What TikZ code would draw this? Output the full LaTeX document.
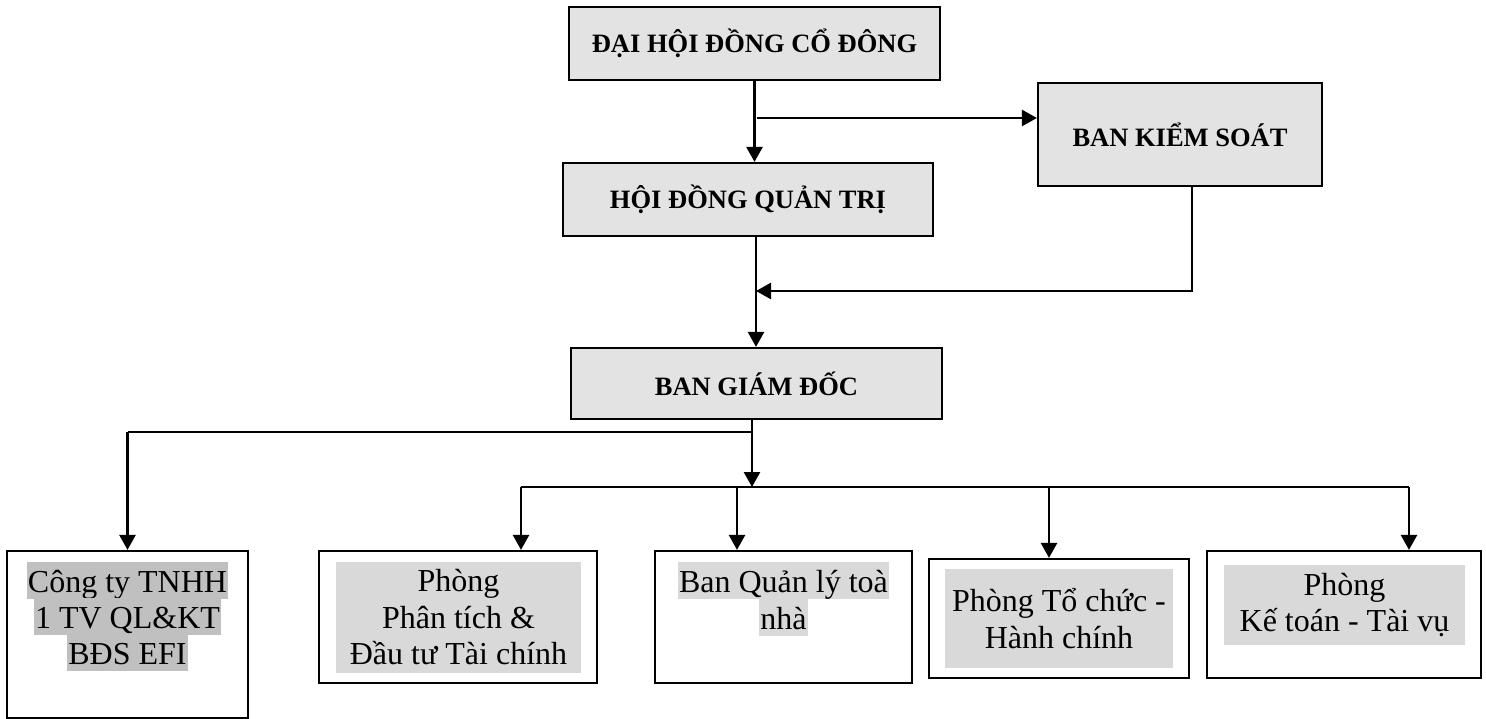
\documentclass[tikz,border=0pt]{standalone}
\usepackage{fontspec}
\setmainfont{Liberation Serif}
\usetikzlibrary{arrows.meta}
\definecolor{boxgray}{RGB}{227,227,227}
\definecolor{hlgray}{RGB}{217,217,217}
\definecolor{hldark}{RGB}{192,192,192}
\newcommand{\unitfont}{\fontsize{32}{36.5}\selectfont}
\tikzset{
    topbox/.style={draw, line width=2.2pt, fill=boxgray, inner sep=0pt,
        font=\bfseries\fontsize{26.5}{30}\selectfont},
    unitbox/.style={draw, line width=2.2pt, inner sep=0pt},
    hlblock/.style={fill=hlgray, align=center, inner sep=0pt, font=\unitfont},
    hlline/.style={fill=#1, inner xsep=1pt, inner ysep=0pt, anchor=base,
        text height=30pt, text depth=7pt, font=\unitfont},
    link/.style={line width=2.6pt},
    thinlink/.style={line width=1.8pt},
    arr/.style={line width=2.6pt, -{Triangle[length=15pt,width=16pt]}}
}
\begin{document}
\begin{tikzpicture}[x=1pt,y=-1pt]
                \useasboundingbox (0,0) rectangle (1486,719);
                \node[topbox, minimum width=371pt, minimum height=73pt] (dhdcd) at (754.5,43.5) {ĐẠI HỘI ĐỒNG CỔ ĐÔNG};
                \node[topbox, minimum width=370pt, minimum height=73pt] (hdqt) at (748,199.5) {HỘI ĐỒNG QUẢN TRỊ};
                \node[topbox, minimum width=284pt, minimum height=103pt] (bks) at (1180,134.5) {BAN KIỂM SOÁT};
                \node[topbox, minimum width=371pt, minimum height=71pt] (bgd) at (756.5,383.5) {BAN GIÁM ĐỐC};
                \node[unitbox, minimum width=241pt, minimum height=167pt] (cty) at (127.5,634.5) {};
                \node[unitbox, minimum width=278pt, minimum height=132pt] (ptich) at (458,617) {};
                \node[unitbox, minimum width=257pt, minimum height=132pt] (bql) at (783.5,617) {};
                \node[unitbox, minimum width=260pt, minimum height=119pt] (tchc) at (1059,618.5) {};
                \node[unitbox, minimum width=274pt, minimum height=127pt] (ktoan) at (1344,614.5) {};
                \node[hlline=hldark] (cty1) at (127.5,592) {Công ty TNHH};
                \node[hlline=hldark] (cty2) at (127.5,628) {1 TV QL\&KT};
                \node[hlline=hldark] (cty3) at (127.5,664) {BĐS EFI};
                \node[hlblock, minimum width=245pt, minimum height=111pt] (ptichtxt) at (458.5,617.5) {Phòng\\Phân tích \&\\Đầu tư Tài chính};
                \node[hlline=hlgray] (bql1) at (783.5,592) {Ban Quản lý toà};
                \node[hlline=hlgray] (bql2) at (783.5,629) {nhà};
                \node[hlblock, minimum width=228pt, minimum height=99pt] (tchctxt) at (1059,618.5) {Phòng Tổ chức -\\Hành chính};
                \node[hlblock, minimum width=241pt, minimum height=80pt] (ktoantxt) at (1344.5,605) {Phòng\\Kế toán - Tài vụ};
                \coordinate (ks) at (757,118);
                \coordinate (kb) at (1192,291);
                \coordinate (qg) at (756,291);
                \coordinate (gc) at (752,432);
                \coordinate (bus) at (752,487);
                \coordinate (busl) at (521,487);
                \coordinate (busr) at (1409,487);
                \coordinate (dql) at (737,487);
                \coordinate (dtc) at (1049,487);
                \draw[arr] (dhdcd.south) -- (dhdcd.south |- hdqt.north);
                \draw[arr] (ks) -- (ks -| bks.west);
                \draw[arr] (hdqt.south -| qg) -- (qg |- bgd.north);
                \draw[arr] (bks.south -| kb) -- (kb) -- (qg);
                \draw[arr] (bgd.south -| bus) -- (bus);
                \draw[thinlink] (gc) -- (gc -| cty.north);
                \draw[arr] (gc -| cty.north) -- (cty.north);
                \draw[link] (busl) -- (busr);
                \draw[arr] (busl) -- (busl |- ptich.north);
                \draw[arr] (dql) -- (dql |- bql.north);
                \draw[arr] (dtc) -- (dtc |- tchc.north);
                \draw[arr] (busr) -- (busr |- ktoan.north);
            \end{tikzpicture}
\end{document}
